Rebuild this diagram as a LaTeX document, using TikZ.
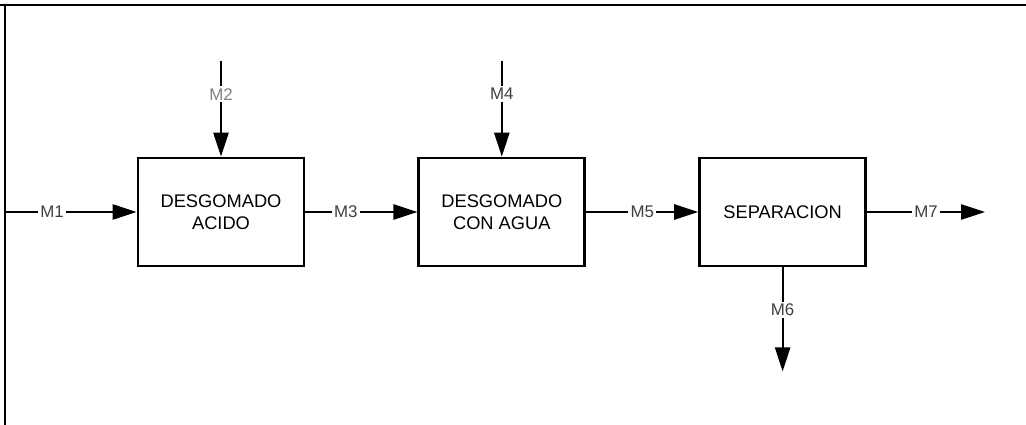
\documentclass[tikz,border=0pt]{standalone}
\usepackage{fontspec}
\setmainfont{Liberation Sans}
\usetikzlibrary{positioning,arrows.meta}

\begin{document}
\begin{tikzpicture}[
  unit/.style={draw, line width=2pt,
               minimum width=4.15cm, minimum height=2.7cm,
               align=center, font=\fontsize{13}{16}\selectfont},
  flow/.style={-{Triangle[length=0.6cm,width=0.38cm]}, line width=1.4pt},
  tag/.style={fill=white, inner sep=1.5pt, text=black!75,
              font=\fontsize{12}{14}\selectfont},
  node distance=2.8cm
]
\useasboundingbox (0,0) rectangle (25.65,-10.625);
% frame
\draw[line width=2pt] (0,-0.125) -- (25.65,-0.125);
\draw[line width=1.4pt] (0.125,-0.125) -- (0.125,-10.625);
% units
\node[unit]               (acido) at (5.525,-5.3) {DESGOMADO\\ACIDO};
\node[unit,right=of acido] (agua) {DESGOMADO\\CON AGUA};
\node[unit,right=of agua]  (sep)  {SEPARACION};
% free ends
\coordinate[left=3.3cm of acido]  (m1);
\coordinate[above=2.4cm of acido] (m2);
\coordinate[above=2.4cm of agua]  (m4);
\coordinate[below=2.6cm of sep]   (m6);
\coordinate[right=2.95cm of sep]  (m7);
% streams
\draw[flow] (m1) -- node[tag,pos=0.36] {M1} (acido);
\draw[flow] (m2) -- node[tag,pos=0.35,text=black!50] {M2} (acido);
\draw[flow] (acido) -- node[tag,pos=0.36] {M3} (agua);
\draw[flow] (m4) -- node[tag,pos=0.35] {M4} (agua);
\draw[flow] (agua) -- node[tag,pos=0.5] {M5} (sep);
\draw[flow] (sep) -- node[tag,pos=0.41] {M6} (m6);
\draw[flow] (sep) -- node[tag,pos=0.5] {M7} (m7);
\end{tikzpicture}
\end{document}
